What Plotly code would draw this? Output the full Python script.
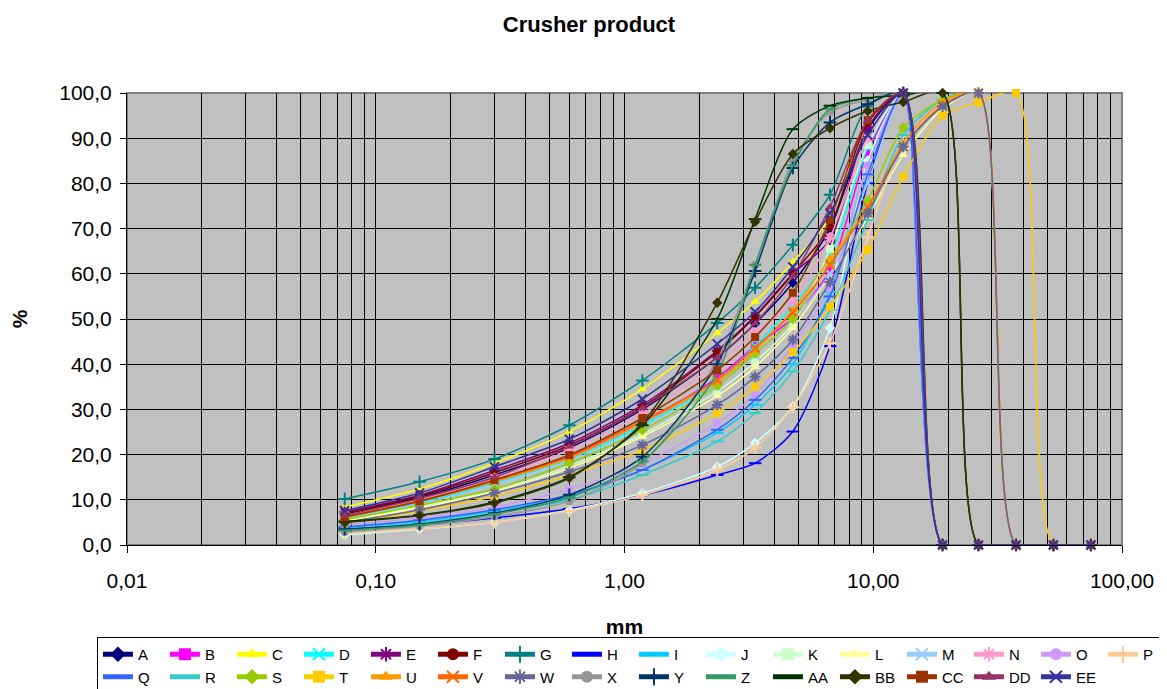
import plotly.graph_objects as go

# Sieve sizes (mm)
sizes = [0.075, 0.15, 0.3, 0.6, 1.18, 2.36, 3.35, 4.75, 6.7, 9.5, 13.2, 19, 26.5, 37.5, 53, 75]

# Percent passing per sample
A  = [6.8, 10.5, 15.5, 21.5, 30.0, 41.5, 49.0, 58.0, 70.0, 92.0, 100, 0, 0, 0, 0, 0]
B  = [6.0, 9.5, 14.0, 19.5, 27.0, 37.0, 44.0, 50.2, 60.8, 87.0, 100, 0, 0, 0, 0, 0]
C  = [8.4, 12.4, 18.1, 25.1, 34.5, 46.9, 53.8, 62.6, 72.5, 93.0, 100, 0, 0, 0, 0, 0]
D  = [5.9, 9.3, 13.7, 19.0, 26.5, 36.0, 44.0, 53.0, 64.0, 88.0, 100, 0, 0, 0, 0, 0]
E  = [7.3, 11.0, 16.5, 22.5, 31.0, 43.0, 50.7, 60.0, 67.5, 92.5, 100, 0, 0, 0, 0, 0]
F  = [7.0, 10.8, 16.0, 22.0, 30.5, 42.7, 50.5, 60.0, 70.4, 93.5, 100, 0, 0, 0, 0, 0]
G  = [10.2, 14.0, 19.0, 26.5, 36.4, 49.1, 56.9, 66.4, 77.5, 97.0, 100, 0, 0, 0, 0, 0]
H  = [3.5, 4.5, 6.0, 8.0, 11.0, 15.5, 18.1, 25.1, 44.0, 80.0, 100, 0, 0, 0, 0, 0]
I  = [3.8, 5.2, 7.5, 10.8, 16.6, 24.8, 31.0, 40.0, 56.0, 84.0, 100, 0, 0, 0, 0, 0]
J  = [2.2, 3.5, 5.0, 7.7, 11.5, 17.3, 22.6, 30.6, 48.0, 85.0, 100, 0, 0, 0, 0, 0]
K  = [5.4, 8.5, 12.0, 17.5, 24.5, 34.0, 40.5, 49.0, 65.5, 88.5, 100, 0, 0, 0, 0, 0]
L  = [5.2, 8.2, 11.8, 17.0, 24.0, 33.0, 39.4, 48.0, 59.7, 72.5, 86.3, 96.5, 100, 0, 0, 0]
M  = [5.8, 9.0, 13.3, 18.5, 26.0, 35.0, 42.0, 50.0, 60.0, 80.1, 100, 0, 0, 0, 0, 0]
N  = [6.5, 10.0, 14.8, 21.0, 29.0, 40.0, 47.0, 53.8, 68.0, 90.0, 100, 0, 0, 0, 0, 0]
O  = [4.5, 6.0, 8.4, 12.4, 18.0, 27.0, 33.2, 44.2, 56.8, 84.0, 100, 0, 0, 0, 0, 0]
P  = [2.5, 3.6, 5.0, 7.5, 11.0, 16.6, 21.5, 30.5, 44.7, 68.1, 89.0, 97.5, 100, 0, 0, 0]
Q  = [4.0, 5.5, 7.8, 11.1, 16.6, 25.5, 32.1, 41.4, 55.0, 82.0, 100, 0, 0, 0, 0, 0]
R  = [3.3, 4.8, 7.0, 10.0, 15.5, 22.9, 29.2, 38.4, 52.0, 71.9, 90.7, 98.5, 100, 0, 0, 0]
S  = [5.6, 8.8, 12.4, 18.1, 25.4, 35.2, 42.3, 50.0, 62.5, 76.3, 92.3, 98.5, 100, 0, 0, 0]
T  = [4.8, 7.5, 10.8, 15.5, 21.0, 29.2, 35.0, 42.7, 52.7, 65.3, 81.5, 95.0, 97.9, 100, 0, 0]
U  = [6.1, 9.6, 14.0, 19.2, 27.0, 36.0, 43.0, 52.0, 63.5, 74.1, 89.0, 98.0, 100, 0, 0, 0]
V  = [6.3, 9.8, 14.2, 19.6, 27.5, 36.5, 43.6, 51.5, 62.0, 74.8, 88.1, 97.3, 100, 0, 0, 0]
W  = [5.0, 7.8, 11.5, 16.2, 22.1, 31.0, 37.2, 45.4, 58.2, 73.4, 88.1, 97.0, 100, 0, 0, 0]
X  = [2.9, 4.2, 6.3, 9.7, 18.1, 41.0, 62.0, 85.0, 95.8, 98.5, 100, 0, 0, 0, 0, 0]
Y  = [3.5, 4.6, 7.0, 11.1, 19.5, 40.0, 60.6, 83.4, 93.5, 97.5, 100, 0, 0, 0, 0, 0]
Z  = [3.2, 4.4, 6.8, 10.5, 18.5, 38.0, 62.0, 84.0, 96.5, 98.9, 99.5, 100, 0, 0, 0, 0]
AA = [5.2, 6.6, 9.5, 15.0, 26.5, 50.0, 72.1, 92.0, 97.2, 98.9, 99.5, 100, 0, 0, 0, 0]
BB = [5.0, 6.5, 9.3, 14.8, 27.0, 53.6, 71.5, 86.5, 92.2, 96.0, 98.0, 100, 0, 0, 0, 0]
CC = [6.2, 9.7, 14.4, 19.9, 28.1, 38.7, 46.0, 55.8, 71.9, 94.0, 100, 0, 0, 0, 0, 0]
DD = [6.6, 10.3, 15.0, 21.8, 30.3, 41.5, 49.0, 59.5, 74.8, 94.0, 100, 0, 0, 0, 0, 0]
EE = [7.6, 11.5, 17.3, 23.4, 32.3, 44.5, 51.6, 61.5, 73.4, 90.7, 100, 0, 0, 0, 0, 0]

names = ["A", "B", "C", "D", "E", "F", "G", "H", "I", "J", "K", "L", "M", "N", "O", "P",
         "Q", "R", "S", "T", "U", "V", "W", "X", "Y", "Z", "AA", "BB", "CC", "DD", "EE"]
values = [A, B, C, D, E, F, G, H, I, J, K, L, M, N, O, P,
          Q, R, S, T, U, V, W, X, Y, Z, AA, BB, CC, DD, EE]

x_tickvals = [0.01, 0.1, 1, 10, 100]
x_ticktext = ["0,01", "0,10", "1,00", "10,00", "100,00"]

# Styles (Excel default series palette / markers)
colors = ["#000080", "#FF00FF", "#FFFF00", "#00FFFF", "#800080", "#800000", "#008080", "#0000FF",
          "#00CCFF", "#CCFFFF", "#CCFFCC", "#FFFF99", "#99CCFF", "#FF99CC", "#CC99FF", "#FFCC99",
          "#3366FF", "#33CCCC", "#99CC00", "#FFCC00", "#FF9900", "#FF6600", "#666699", "#969696",
          "#003366", "#339966", "#003300", "#333300", "#993300", "#993366", "#333399"]
symbols = ["diamond", "square", "triangle-up", "x-thin-open", "asterisk-open", "circle",
           "cross-thin-open", "line-ew-open",
           "line-ew-open", "diamond", "square", "triangle-up", "x-thin-open", "asterisk-open",
           "circle", "cross-thin-open",
           "line-ew-open", "line-ew-open", "diamond", "square", "triangle-up", "x-thin-open",
           "asterisk-open", "circle", "cross-thin-open",
           "line-ew-open", "line-ew-open", "diamond", "square", "triangle-up", "x-thin-open"]

FONT = "Arial, Liberation Sans, sans-serif"

# The page body has an 8px default margin; size the figure so it fills the window.
W_FIG, H_FIG = 1159, 681

fig = go.Figure()
for name, vals, col, sym in zip(names, values, colors, symbols):
    thin = sym.endswith("-open")
    fig.add_trace(go.Scatter(
        x=sizes, y=vals, name=name, mode="lines+markers",
        line=dict(color=col, width=1.5, shape="spline", smoothing=0.75),
        marker=dict(symbol=sym, size=8 if not thin else 9, color=col,
                    line=dict(color=col, width=2 if thin else 0)),
        cliponaxis=False,
    ))

fig.update_layout(
    width=W_FIG, height=H_FIG,
    margin=dict(l=119, r=45, t=85, b=144, autoexpand=False),
    paper_bgcolor="white", plot_bgcolor="#C0C0C0",
    separators=",.",
    font=dict(family=FONT, color="black", size=20),
    title=dict(text="<b>Crusher product</b>", x=(589 - 8) / W_FIG, xref="container",
               xanchor="center", y=1 - 16 / H_FIG, yref="container", yanchor="middle",
               font=dict(family=FONT, size=22, color="black")),
    showlegend=True,
    legend=dict(orientation="h", x=-0.0302, xanchor="left", y=-0.2035, yanchor="top",
                bgcolor="white", bordercolor="black", borderwidth=1,
                font=dict(family=FONT, size=15, color="black"),
                entrywidth=22, entrywidthmode="pixels", traceorder="normal",
                itemsizing="constant", tracegroupgap=0),
    shapes=[dict(type="rect", xref="paper", yref="paper", x0=0, y0=0, x1=1, y1=1,
                 line=dict(color="#808080", width=2), layer="below")],
)

fig.update_xaxes(
    type="log", range=[-2, 2], automargin=False,
    tickvals=x_tickvals, ticktext=x_ticktext,
    showgrid=True, gridcolor="black", gridwidth=1,
    minor=dict(showgrid=True, gridcolor="black", gridwidth=1, dtick="D1", ticks=""),
    ticks="outside", ticklen=7, tickcolor="black", ticklabelstandoff=10,
    showline=True, linecolor="black", linewidth=1,
    tickfont=dict(family=FONT, size=21, color="black"),
    title=dict(text="<b>mm</b>", font=dict(family=FONT, size=21, color="black"), standoff=28),
    zeroline=False,
)
fig.update_yaxes(
    range=[0, 100], dtick=10, tickformat=".1f", automargin=False,
    showgrid=True, gridcolor="black", gridwidth=1,
    ticks="outside", ticklen=6, tickcolor="black", ticklabelstandoff=4,
    showline=True, linecolor="black", linewidth=1,
    tickfont=dict(family=FONT, size=21, color="black"),
    title=dict(text="<b>%</b>", font=dict(family=FONT, size=21, color="black"), standoff=27),
    zeroline=False,
)

fig.write_html("out.html")
